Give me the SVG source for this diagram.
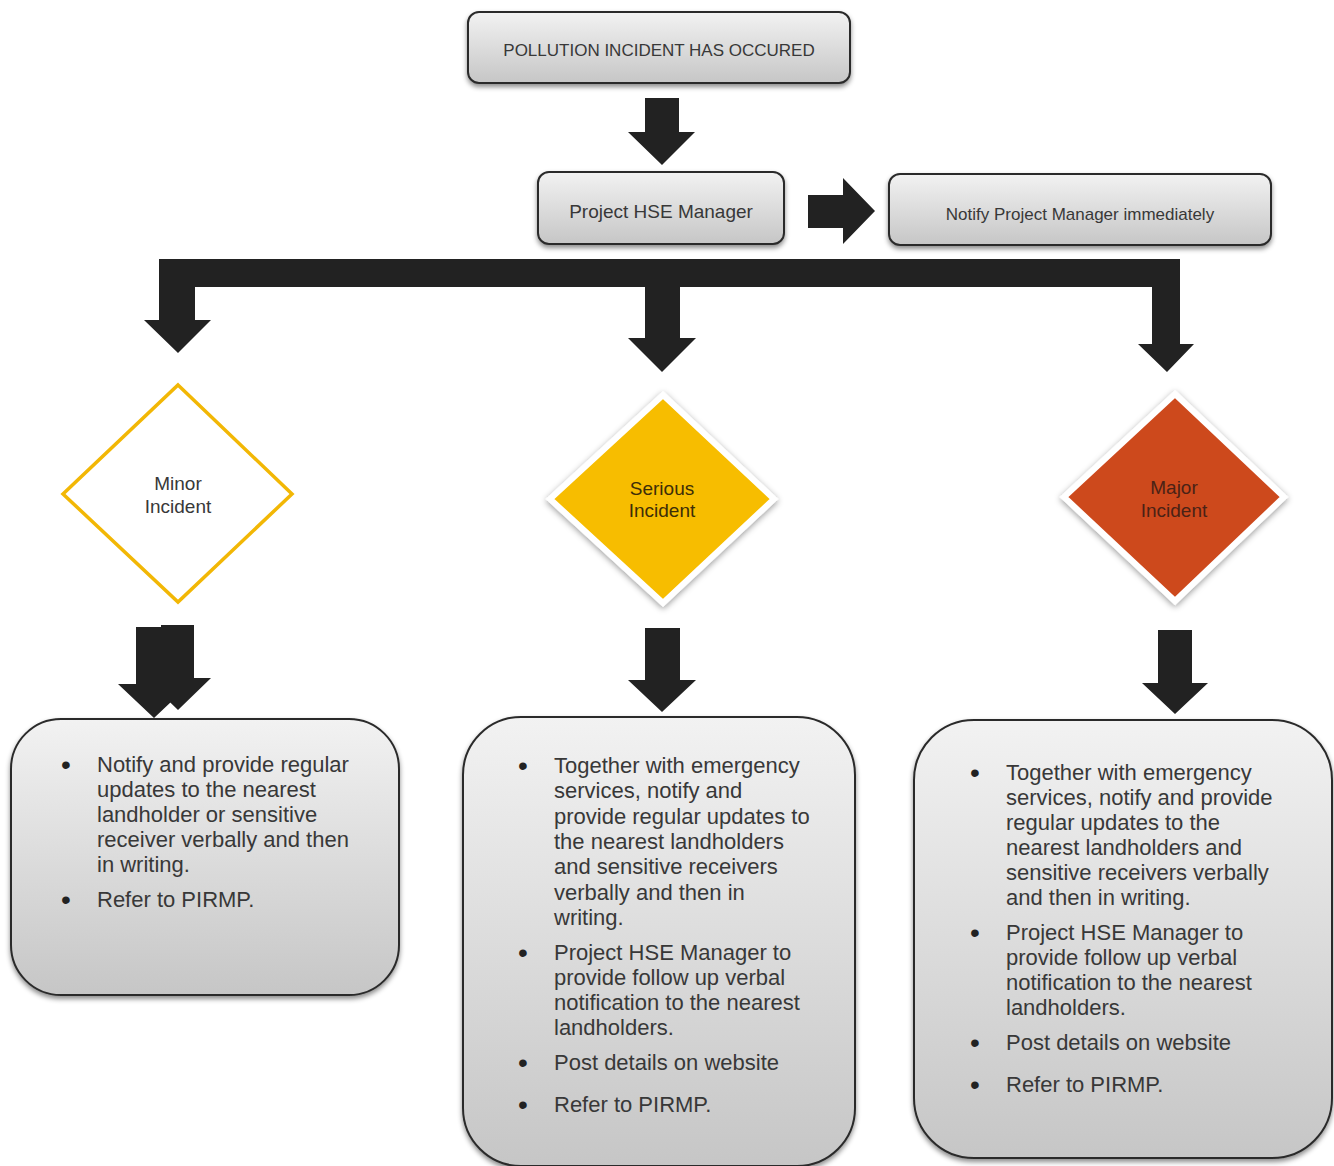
<svg xmlns="http://www.w3.org/2000/svg" width="1334" height="1166" viewBox="0 0 1334 1166">
<defs>
<linearGradient id="gbox" x1="0" y1="0" x2="0" y2="1">
<stop offset="0" stop-color="#f2f2f2"/>
<stop offset="1" stop-color="#c6c6c6"/>
</linearGradient>
<filter id="sh" x="-10%" y="-10%" width="120%" height="130%">
<feDropShadow dx="0" dy="3" stdDeviation="2.5" flood-color="#000" flood-opacity="0.45"/>
</filter>
<filter id="dsh" x="-10%" y="-10%" width="120%" height="125%">
<feDropShadow dx="0" dy="2" stdDeviation="3" flood-color="#000" flood-opacity="0.4"/>
</filter>
</defs>
<style>
.box{fill:url(#gbox);stroke:#2b2b2b;stroke-width:2;filter:url(#sh)}
.t{font-family:"Liberation Sans",Arial,sans-serif;fill:#383838}
.c{text-anchor:middle}
.b{font-size:22px}
.bl{font-size:28px;fill:#222}
.arr{fill:#222}
</style>
<rect width="1334" height="1166" fill="#fff"/>

<g id="connectors">
<path class="arr" d="M645,98 H679 V132 H695 L662,165 L628,132 H645 Z"/>
<path class="arr" d="M808,195 H843 V178 L875,211 L843,244 V228 H808 Z"/>
<rect class="arr" x="159" y="259" width="1021" height="28"/>
<path class="arr" d="M159,287 H195 V320 H211 L178,353 L144,320 H159 Z"/>
<path class="arr" d="M645,287 H680 V338 H696 L662,372 L628,338 H645 Z"/>
<path class="arr" d="M1152,287 H1180 V344 H1194 L1167,372 L1138,344 H1152 Z"/>
<path class="arr" d="M136,627 H172 V684 H190 L154,718 L118,684 H136 Z"/>
<path class="arr" d="M161,625 H194 V678 H211 L178,710 L145,678 H161 Z"/>
<path class="arr" d="M645,628 H680 V680 H696 L662,712 L628,680 H645 Z"/>
<path class="arr" d="M1158,630 H1192 V683 H1208 L1175,714 L1142,683 H1158 Z"/>
</g>

<g id="start">
<rect class="box" x="468" y="12" width="382" height="71" rx="11"/>
<text class="t c" x="659" y="56" font-size="17">POLLUTION INCIDENT HAS OCCURED</text>
</g>

<g id="hse">
<rect class="box" x="538" y="172" width="246" height="72" rx="11"/>
<text class="t c" x="661" y="218" font-size="19">Project HSE Manager</text>
</g>

<g id="notify">
<rect class="box" x="889" y="174" width="382" height="71" rx="11"/>
<text class="t c" x="1080" y="220" font-size="17">Notify Project Manager immediately</text>
</g>

<g id="minor">
<polygon points="178,385 292,494 178,602 63,494" fill="#fff" stroke="#f2b705" stroke-width="3.5"/>
<text class="t c" x="178" y="490" font-size="19">Minor</text>
<text class="t c" x="178" y="513" font-size="19">Incident</text>
</g>

<g id="serious">
<polygon points="663,395 774,499 663,603 550,499" fill="#f7bd00" stroke="#fff" stroke-width="6" filter="url(#dsh)"/>
<text class="t c" x="662" y="495" font-size="19" style="fill:#3d2e08">Serious</text>
<text class="t c" x="662" y="517" font-size="19" style="fill:#3d2e08">Incident</text>
</g>

<g id="major">
<polygon points="1175,394 1284,497 1175,601 1064,497" fill="#cd4a1f" stroke="#fff" stroke-width="6" filter="url(#dsh)"/>
<text class="t c" x="1174" y="494" font-size="19" style="fill:#4a2216">Major</text>
<text class="t c" x="1174" y="517" font-size="19" style="fill:#4a2216">Incident</text>
</g>

<g id="minor-actions">
<rect class="box" x="11" y="719" width="388" height="276" rx="50"/>
<g class="t b">
<text class="bl" x="61" y="774">•</text>
<text x="97" y="772">Notify and provide regular</text>
<text x="97" y="797">updates to the nearest</text>
<text x="97" y="822">landholder or sensitive</text>
<text x="97" y="847">receiver verbally and then</text>
<text x="97" y="872">in writing.</text>
<text class="bl" x="61" y="909">•</text>
<text x="97" y="907">Refer to PIRMP.</text>
</g>
</g>

<g id="serious-actions">
<rect class="box" x="463" y="717" width="392" height="449" rx="58"/>
<g class="t b">
<text class="bl" x="518" y="775">•</text>
<text x="554" y="773">Together with emergency</text>
<text x="554" y="798">services, notify and</text>
<text x="554" y="823.5">provide regular updates to</text>
<text x="554" y="849">the nearest landholders</text>
<text x="554" y="874">and sensitive receivers</text>
<text x="554" y="899.5">verbally and then in</text>
<text x="554" y="925">writing.</text>
<text class="bl" x="518" y="962">•</text>
<text x="554" y="960">Project HSE Manager to</text>
<text x="554" y="985">provide follow up verbal</text>
<text x="554" y="1010">notification to the nearest</text>
<text x="554" y="1035">landholders.</text>
<text class="bl" x="518" y="1072">•</text>
<text x="554" y="1070">Post details on website</text>
<text class="bl" x="518" y="1114">•</text>
<text x="554" y="1112">Refer to PIRMP.</text>
</g>
</g>

<g id="major-actions">
<rect class="box" x="914" y="720" width="418" height="438" rx="60"/>
<g class="t b">
<text class="bl" x="970" y="782">•</text>
<text x="1006" y="780">Together with emergency</text>
<text x="1006" y="805">services, notify and provide</text>
<text x="1006" y="830">regular updates to the</text>
<text x="1006" y="855">nearest landholders and</text>
<text x="1006" y="880">sensitive receivers verbally</text>
<text x="1006" y="905">and then in writing.</text>
<text class="bl" x="970" y="942">•</text>
<text x="1006" y="940">Project HSE Manager to</text>
<text x="1006" y="965">provide follow up verbal</text>
<text x="1006" y="990">notification to the nearest</text>
<text x="1006" y="1015">landholders.</text>
<text class="bl" x="970" y="1052">•</text>
<text x="1006" y="1050">Post details on website</text>
<text class="bl" x="970" y="1094">•</text>
<text x="1006" y="1092">Refer to PIRMP.</text>
</g>
</g>
</svg>
